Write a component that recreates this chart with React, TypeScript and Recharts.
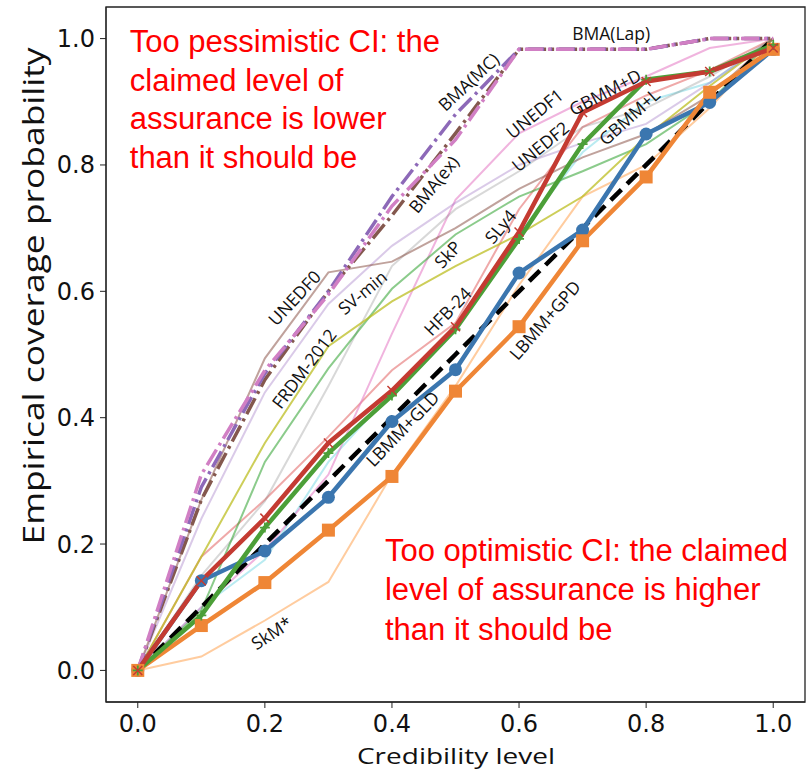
import React from 'react';
import { LineChart, Line, XAxis, YAxis, ReferenceDot, ReferenceArea } from 'recharts';

// Credibility levels (x)
const credibility = [0, 0.1, 0.2, 0.3, 0.4, 0.5, 0.6, 0.7, 0.8, 0.9, 1.0];
const xTicks = [0, 0.2, 0.4, 0.6, 0.8, 1.0];
const yTicks = [0, 0.2, 0.4, 0.6, 0.8, 1.0];

// Perfect calibration
const ideal = [0, 0.1, 0.2, 0.3, 0.4, 0.5, 0.6, 0.7, 0.8, 0.9, 1.0];

// Individual models (thin lines)
const skmStar = [0, 0.022, 0.079, 0.14, 0.31, 0.45, 0.61, 0.75, 0.8, 0.89, 1.0];
const hfb24 = [0, 0.1, 0.175, 0.33, 0.44, 0.54, 0.69, 0.82, 0.9, 0.93, 1.0];
const sly4 = [0, 0.18, 0.27, 0.37, 0.475, 0.55, 0.73, 0.86, 0.91, 0.95, 1.0];
const unedf1 = [0, 0.1, 0.19, 0.31, 0.533, 0.745, 0.85, 0.9, 0.94, 0.985, 1.0];
const unedf2 = [0, 0.15, 0.268, 0.45, 0.64, 0.73, 0.79, 0.86, 0.89, 0.94, 1.0];
const skp = [0, 0.095, 0.33, 0.478, 0.604, 0.69, 0.75, 0.79, 0.833, 0.9, 1.0];
const frdm2012 = [0, 0.18, 0.36, 0.513, 0.584, 0.64, 0.69, 0.75, 0.845, 0.925, 1.0];
const svMin = [0, 0.24, 0.44, 0.58, 0.672, 0.74, 0.8, 0.835, 0.865, 0.93, 1.0];
const unedf0 = [0, 0.27, 0.494, 0.63, 0.647, 0.7, 0.762, 0.812, 0.849, 0.91, 1.0];

// BMA variants (dash-dot)
const bmaEx = [0, 0.27, 0.46, 0.6, 0.72, 0.85, 0.983, 0.983, 0.983, 1.0, 1.0];
const bmaMC = [0, 0.29, 0.47, 0.6, 0.75, 0.88, 0.983, 0.983, 0.983, 1.0, 1.0];
const bmaLap = [0, 0.31, 0.475, 0.595, 0.735, 0.84, 0.983, 0.983, 0.983, 1.0, 1.0];

// Mixture models (thick lines)
const lbmmGld = [0, 0.142, 0.189, 0.274, 0.394, 0.476, 0.629, 0.697, 0.849, 0.899, 0.983];
const lbmmGpd = [0, 0.071, 0.139, 0.222, 0.307, 0.442, 0.544, 0.68, 0.781, 0.915, 0.983];
const gbmmL = [0, 0.087, 0.226, 0.344, 0.435, 0.54, 0.683, 0.833, 0.935, 0.948, 0.99];
const gbmmD = [0, 0.142, 0.241, 0.36, 0.443, 0.544, 0.694, 0.883, 0.932, 0.948, 0.985];

// Curve labels: text, anchor (data coords), rotation
const curveLabels = [
  { text: 'BMA(Lap)', x: 0.745, y: 1.009, angle: 0 },
  { text: 'BMA(MC)', x: 0.52, y: 0.932, angle: -43 },
  { text: 'BMA(ex)', x: 0.465, y: 0.77, angle: -51 },
  { text: 'UNEDF1', x: 0.624, y: 0.882, angle: -39 },
  { text: 'UNEDF2', x: 0.633, y: 0.83, angle: -39 },
  { text: 'GBMM+D', x: 0.735, y: 0.916, angle: -28 },
  { text: 'GBMM+L', x: 0.773, y: 0.877, angle: -42 },
  { text: 'SLy4', x: 0.57, y: 0.703, angle: -50 },
  { text: 'SkP', x: 0.487, y: 0.659, angle: -47 },
  { text: 'HFB-24', x: 0.487, y: 0.569, angle: -46 },
  { text: 'LBMM+GPD', x: 0.64, y: 0.555, angle: -49 },
  { text: 'LBMM+GLD', x: 0.416, y: 0.383, angle: -46 },
  { text: 'UNEDF0', x: 0.246, y: 0.59, angle: -47 },
  { text: 'SV-min', x: 0.353, y: 0.599, angle: -40 },
  { text: 'FRDM-2012', x: 0.261, y: 0.478, angle: -53 },
  { text: 'SkM*', x: 0.21, y: 0.06, angle: -33 },
];

const pessimisticText = ['Too pessimistic CI: the', 'claimed level of', 'assurance is lower', 'than it should be'];
const optimisticText = ['Too optimistic CI: the claimed', 'level of assurance is higher', 'than it should be'];

const BLUE = '#3b76af';
const ORANGE = '#ef8636';
const RED = '#c43b32';
const GREEN = '#4c9f38';

const thinSeries = [
  { key: 'skm', values: skmStar, color: '#ff7f0e', op: 0.4 },
  { key: 'hfb', values: hfb24, color: '#17becf', op: 0.3 },
  { key: 'sly4', values: sly4, color: '#d62728', op: 0.4 },
  { key: 'unedf1', values: unedf1, color: '#e377c2', op: 0.55 },
  { key: 'unedf2', values: unedf2, color: '#7f7f7f', op: 0.3 },
  { key: 'skp', values: skp, color: '#2ca02c', op: 0.55 },
  { key: 'frdm', values: frdm2012, color: '#bcbd22', op: 0.75 },
  { key: 'svmin', values: svMin, color: '#9467bd', op: 0.35 },
  { key: 'unedf0', values: unedf0, color: '#8c564b', op: 0.55 },
];

const bmaSeries = [
  { key: 'bmaEx', values: bmaEx, color: '#84584e' },
  { key: 'bmaMC', values: bmaMC, color: '#8d69b8' },
  { key: 'bmaLap', values: bmaLap, color: '#d17fc4' },
];

const data = credibility.map((c, i) => {
  const row: Record<string, number> = { c, ideal: ideal[i], gld: lbmmGld[i], gpd: lbmmGpd[i], gbL: gbmmL[i], gbD: gbmmD[i] };
  thinSeries.forEach((s) => { row[s.key] = s.values[i]; });
  bmaSeries.forEach((s) => { row[s.key] = s.values[i]; });
  return row;
});

const RotLabel = (props: any) => {
  const vb = props.viewBox || {};
  const cx = (vb.x || 0) + (vb.width || 0) / 2;
  const cy = (vb.y || 0) + (vb.height || 0) / 2;
  return (
    <text
      x={cx}
      y={cy}
      transform={`rotate(${props.angle} ${cx} ${cy})`}
      textAnchor="middle"
      dominantBaseline="central"
      fontFamily="'Open Sans', sans-serif"
      fontSize={17.5}
      fill="#111"
    >
      {props.text}
    </text>
  );
};

const RedNote = (props: any) => {
  const vb = props.viewBox || {};
  const x0 = (vb.x || 0) + (vb.width || 0) / 2;
  const y0 = (vb.y || 0) + (vb.height || 0) / 2;
  return (
    <text x={x0} y={y0} fontFamily="'Liberation Sans', Arial, sans-serif" fontSize={31} fill="#ff0000">
      {props.lines.map((l: string, i: number) => (
        <tspan key={i} x={x0} y={y0 + i * props.lh}>{l}</tspan>
      ))}
    </text>
  );
};

const circleDot = (p: any) => <circle key={`c${p.index}`} cx={p.cx} cy={p.cy} r={6.5} fill={BLUE} />;
const squareDot = (p: any) => (
  <rect key={`s${p.index}`} x={p.cx - 6.5} y={p.cy - 6.5} width={13} height={13} fill={ORANGE} />
);
const xDot = (p: any) => (
  <path
    key={`x${p.index}`}
    d={`M${p.cx - 4.5},${p.cy - 4.5}L${p.cx + 4.5},${p.cy + 4.5}M${p.cx - 4.5},${p.cy + 4.5}L${p.cx + 4.5},${p.cy - 4.5}`}
    stroke={RED}
    strokeWidth={1.5}
  />
);
const plusDot = (p: any) => (
  <path
    key={`p${p.index}`}
    d={`M${p.cx - 5},${p.cy}L${p.cx + 5},${p.cy}M${p.cx},${p.cy - 5}L${p.cx},${p.cy + 5}`}
    stroke={GREEN}
    strokeWidth={1.8}
  />
);

const fmt = (v: number) => v.toFixed(1);

export default function App() {
  return (
    <div style={{ position: 'absolute', left: 0, top: 0, background: '#fff' }}>
      <LineChart width={811} height={771} data={data} margin={{ top: 7, right: 6, bottom: 0, left: 0 }}>
        <XAxis
          dataKey="c"
          type="number"
          domain={[-0.05, 1.05]}
          allowDataOverflow
          ticks={xTicks}
          tickFormatter={fmt}
          height={69}
          tickSize={6}
          tickMargin={7}
          stroke="#222"
          tick={{ fill: '#111', fontSize: 24, fontFamily: "'DejaVu Sans', sans-serif" }}
          label={() => (
            <text
              x={456}
              y={764}
              textAnchor="middle"
              fontFamily="'Open Sans', sans-serif"
              fontSize={22}
              fill="#111"
              textLength={198}
              lengthAdjust="spacingAndGlyphs"
            >
              Credibility level
            </text>
          )}
        />
        <YAxis
          type="number"
          domain={[-0.05, 1.05]}
          allowDataOverflow
          ticks={yTicks}
          tickFormatter={fmt}
          width={106}
          tickSize={6}
          tickMargin={5}
          stroke="#222"
          tick={{ fill: '#111', fontSize: 24, fontFamily: "'DejaVu Sans', sans-serif" }}
          label={() => (
            <text
              x={44}
              y={296}
              transform="rotate(-90 44 296)"
              textAnchor="middle"
              fontFamily="'Open Sans', sans-serif"
              fontSize={30}
              fill="#111"
              textLength={497}
              lengthAdjust="spacingAndGlyphs"
            >
              Empirical coverage probability
            </text>
          )}
        />
        <ReferenceArea x1={-0.05} x2={1.05} y1={-0.05} y2={1.05} fill="none" stroke="#222" strokeWidth={1.3} ifOverflow="visible" />

        {thinSeries.map((s) => (
          <Line
            key={s.key}
            dataKey={s.key}
            type="linear"
            stroke={s.color}
            strokeOpacity={s.op}
            strokeWidth={2}
            dot={false}
            isAnimationActive={false}
          />
        ))}
        {bmaSeries.map((s) => (
          <Line
            key={s.key}
            dataKey={s.key}
            type="linear"
            stroke={s.color}
            strokeWidth={3.5}
            strokeDasharray="18 5 3 5"
            dot={false}
            isAnimationActive={false}
          />
        ))}
        <Line dataKey="ideal" type="linear" stroke="#000" strokeWidth={4.5} strokeDasharray="15 8" dot={false} isAnimationActive={false} />
        <Line dataKey="gld" type="linear" stroke={BLUE} strokeWidth={4.5} dot={circleDot} isAnimationActive={false} />
        <Line dataKey="gpd" type="linear" stroke={ORANGE} strokeWidth={4.5} dot={squareDot} isAnimationActive={false} />
        <Line dataKey="gbL" type="linear" stroke={GREEN} strokeWidth={4.5} dot={plusDot} isAnimationActive={false} />
        <Line dataKey="gbD" type="linear" stroke={RED} strokeWidth={4.5} dot={xDot} isAnimationActive={false} />

        {curveLabels.map((l) => (
          <ReferenceDot
            key={l.text}
            x={l.x}
            y={l.y}
            r={0}
            fill="none"
            stroke="none"
            ifOverflow="visible"
            label={(p: any) => <RotLabel {...p} text={l.text} angle={l.angle} />}
          />
        ))}
        <ReferenceDot
          x={-0.0126}
          y={0.978}
          r={0}
          fill="none"
          stroke="none"
          ifOverflow="visible"
          label={(p: any) => <RedNote {...p} lines={pessimisticText} lh={38.5} />}
        />
        <ReferenceDot
          x={0.389}
          y={0.1735}
          r={0}
          fill="none"
          stroke="none"
          ifOverflow="visible"
          label={(p: any) => <RedNote {...p} lines={optimisticText} lh={39.5} />}
        />
      </LineChart>
    </div>
  );
}
